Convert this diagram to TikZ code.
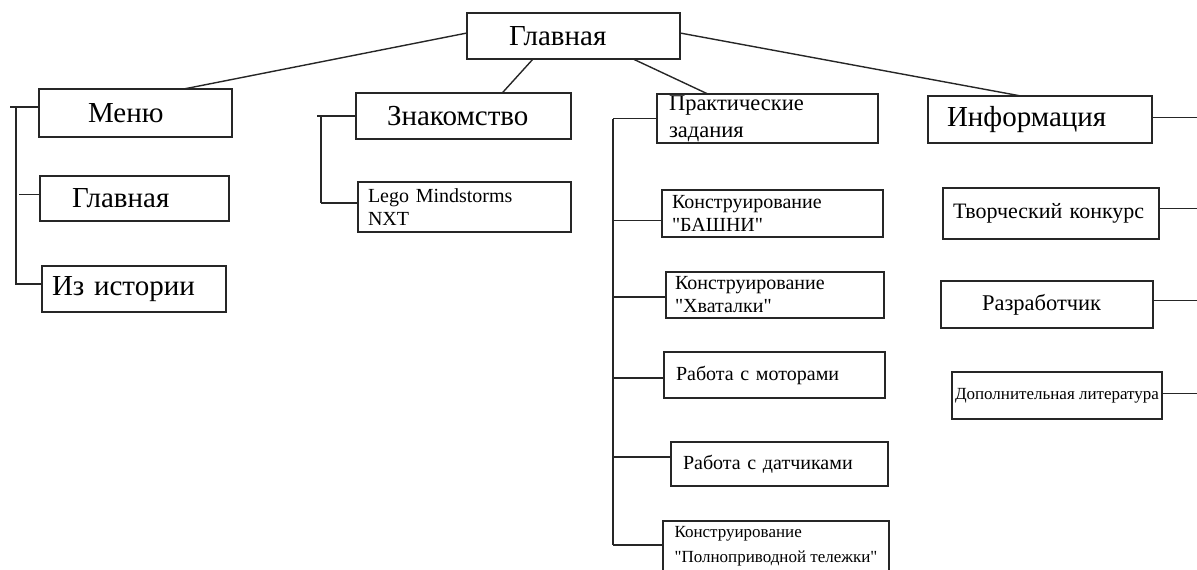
\documentclass[tikz,border=0pt]{standalone}
\usepackage{fontspec}
\setmainfont{Liberation Serif}[Ligatures=TeXOff]
\usetikzlibrary{calc}
\definecolor{Ink}{HTML}{262626}
\tikzset{
    cell/.style={rectangle, draw=Ink, line width=1.4pt, inner ysep=0pt, outer sep=0pt, align=left, text=black},
    bigfont/.style={font=\fontsize{29}{33}\selectfont},
    midfont/.style={font=\fontsize{22.5}{27}\selectfont},
    smallfont/.style={font=\fontsize{20}{23}\selectfont},
    tinyfont/.style={font=\fontsize{17}{22}\selectfont},
    link/.style={draw=Ink, line width=1.4pt},
}
\begin{document}
\begin{tikzpicture}[x=1pt, y=-1pt]
    \useasboundingbox (0,0) rectangle (1197,570);

    % --- Корень ---
    \node[cell, bigfont, minimum width=213pt, minimum height=46pt, inner xsep=42pt, text width=129pt] (main) at (573.5,36) {Главная};

    % --- Ветка 1: Меню ---
    \node[cell, bigfont, minimum width=193pt, minimum height=48pt, inner xsep=49pt, text width=95pt] (menu) at (135.5,113) {Меню};
    \node[cell, bigfont, minimum width=189pt, minimum height=45pt, inner xsep=32pt, text width=125pt] (home) at (134.5,198.5) {Главная};
    \node[cell, bigfont, minimum width=184pt, minimum height=46pt, inner xsep=10pt, text width=164pt] (hist) at (134,289) {Из истории};

    % --- Ветка 2: Знакомство ---
    \node[cell, bigfont, minimum width=215pt, minimum height=46pt, inner xsep=31pt, text width=153pt] (intro) at (463.5,116) {Знакомство};
    \node[cell, smallfont, minimum width=213pt, minimum height=50pt, inner xsep=10pt, text width=193pt] (lego) at (464.5,207) {Lego Mindstorms\\NXT};

    % --- Ветка 3: Практические задания ---
    \node[cell, midfont, minimum width=221pt, minimum height=49pt, inner xsep=12pt, text width=197pt] (pract) at (767.5,118.5) {Практические\\задания};
    \node[cell, smallfont, minimum width=221pt, minimum height=47pt, inner xsep=10pt, text width=201pt] (tower) at (772.5,213.5) {Конструирование\\"БАШНИ"};
    \node[cell, smallfont, minimum width=218pt, minimum height=46pt, inner xsep=9pt, text width=200pt] (grab) at (775,295) {Конструирование\\"Хваталки"};
    \node[cell, smallfont, minimum width=221pt, minimum height=46pt, inner xsep=12pt, text width=197pt] (motor) at (774.5,375) {Работа с моторами};
    \node[cell, smallfont, minimum width=217pt, minimum height=44pt, inner xsep=12pt, text width=193pt] (sensor) at (779.5,464) {Работа с датчиками};
    \node[cell, font=\fontsize{17}{25}\selectfont, minimum width=226pt, minimum height=50pt] (cart) at (776,546) {Конструирование\\"Полноприводной тележки"};

    % --- Ветка 4: Информация ---
    \node[cell, bigfont, minimum width=224pt, minimum height=47pt, inner xsep=19pt, text width=186pt] (info) at (1040,119.5) {Информация};
    \node[cell, font=\fontsize{22}{26}\selectfont, minimum width=216pt, minimum height=51pt, inner xsep=10pt, text width=196pt] (contest) at (1051,213.5) {Творческий конкурс};
    \node[cell, midfont, minimum width=212pt, minimum height=47pt, inner xsep=41pt, text width=130pt] (dev) at (1047,304.5) {Разработчик};
    \node[cell, tinyfont, minimum width=210pt, minimum height=47pt, inner xsep=2pt] (lit) at (1057,395.5) {Дополнительная литература};

    % --- Связи от корня ---
    \draw[link] ([yshift=3pt]main.west) -- ($(menu.north west)!0.75!(menu.north east)$);
    \draw[link] ($(main.south west)!0.31!(main.south east)$) -- ($(intro.north west)!0.68!(intro.north east)$);
    \draw[link] ($(main.south west)!0.78!(main.south east)$) -- ($(pract.north west)!0.23!(pract.north east)$);
    \draw[link] ([yshift=3pt]main.east) -- ($(info.north west)!0.415!(info.north east)$);

    % --- Скобки ---
    \coordinate (lspine) at (16,0);
    \coordinate (mspine) at (321,0);
    \coordinate (pspine) at (613,0);
    \coordinate (redge) at (1197,0);

    \draw[link] ([yshift=6pt]menu.west -| lspine) -- ([yshift=5pt]hist.west -| lspine);
    \draw[link] ([xshift=-6pt, yshift=6pt]menu.west -| lspine) -- ([yshift=6pt]menu.west);
    \draw[link] ([xshift=3pt, yshift=4pt]home.west -| lspine) -- ([yshift=4pt]home.west);
    \draw[link] ([xshift=-1pt, yshift=5pt]hist.west -| lspine) -- ([yshift=5pt]hist.west);

    \draw[link] (intro.west -| mspine) -- ([yshift=4pt]lego.west -| mspine);
    \draw[link] ([xshift=-4pt]intro.west -| mspine) -- (intro.west);
    \draw[link] ([yshift=4pt]lego.west -| mspine) -- ([yshift=4pt]lego.west);

    \draw[link] (pract.west -| pspine) -- ([yshift=1pt]cart.west -| pspine);
    \draw[link] (pract.west -| pspine) -- (pract.west);
    \draw[link] ([yshift=-7pt]tower.west -| pspine) -- ([yshift=-7pt]tower.west);
    \draw[link] ([yshift=-2pt]grab.west -| pspine) -- ([yshift=-2pt]grab.west);
    \draw[link] ([yshift=-3pt]motor.west -| pspine) -- ([yshift=-3pt]motor.west);
    \draw[link] ([yshift=7pt]sensor.west -| pspine) -- ([yshift=7pt]sensor.west);
    \draw[link] ([yshift=1pt]cart.west -| pspine) -- ([yshift=1pt]cart.west);

    \draw[link] ([yshift=2pt]info.east) -- ([yshift=2pt]info.east -| redge);
    \draw[link] ([yshift=5pt]contest.east) -- ([yshift=5pt]contest.east -| redge);
    \draw[link] ([yshift=4pt]dev.east) -- ([yshift=4pt]dev.east -| redge);
    \draw[link] ([yshift=2pt]lit.east) -- ([yshift=2pt]lit.east -| redge);
\end{tikzpicture}
\end{document}
